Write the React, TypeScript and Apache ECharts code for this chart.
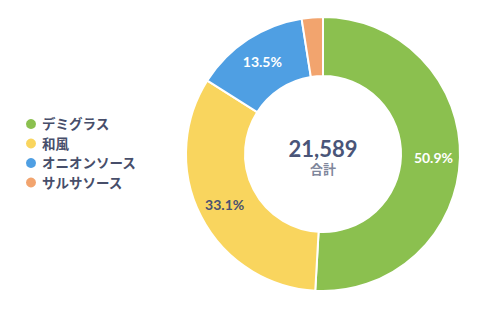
import React, { useEffect, useRef } from "react";
import * as echarts from "echarts";

const categories = ["デミグラス", "和風", "オニオンソース", "サルサソース"];
const values = [10989, 7146, 2915, 539];
const colors = ["#8bc04f", "#f9d55e", "#4f9fe3", "#f2a46e"];
const labelColors = ["#ffffff", "#4a5270", "#ffffff", "#ffffff"];
const totalLabel = "21,589";
const totalCaption = "合計";

const FONT = "Lato, 'Noto Sans CJK JP', sans-serif";

export default function App() {
  const ref = useRef<HTMLDivElement>(null);
  useEffect(() => {
    if (!ref.current) return;
    const chart = echarts.init(ref.current, null, { renderer: "svg" });
    const total = values.reduce((a, b) => a + b, 0);
    chart.setOption({
      animation: false,
      color: colors,
      textStyle: { fontFamily: FONT },
      legend: {
        orient: "vertical",
        left: 19,
        top: 112,
        icon: "circle",
        itemWidth: 12,
        itemHeight: 12,
        itemGap: 5.5,
        textStyle: { color: "#474e6a", fontSize: 13.5, fontWeight: "bold", fontFamily: FONT },
        data: categories,
      },
      graphic: [
        {
          type: "text",
          x: 323,
          y: 148,
          style: {
            text: totalLabel,
            fill: "#4a5578",
            fontSize: 22,
            fontWeight: "bold",
            fontFamily: FONT,
            textAlign: "center",
            textVerticalAlign: "middle",
          },
        },
        {
          type: "text",
          x: 323,
          y: 169,
          style: {
            text: totalCaption,
            fill: "#7f879c",
            fontSize: 13,
            fontWeight: "bold",
            fontFamily: FONT,
            textAlign: "center",
            textVerticalAlign: "middle",
          },
        },
      ],
      series: [
        {
          type: "pie",
          center: [323, 154],
          radius: [78, 137],
          startAngle: 90,
          clockwise: true,
          itemStyle: { borderColor: "#ffffff", borderWidth: 2 },
          label: {
            position: "inside",
            fontSize: 14,
            fontWeight: "bold",
            fontFamily: FONT,
            formatter: (p: any) => {
              const pct = (p.value / total) * 100;
              return pct < 5 ? "" : pct.toFixed(1) + "%";
            },
          },
          labelLine: { show: false },
          emphasis: { disabled: true },
          data: categories.map((name, i) => ({
            name,
            value: values[i],
            label: { color: labelColors[i] },
          })),
        },
      ],
    });
    return () => chart.dispose();
  }, []);
  return (
    <div
      ref={ref}
      style={{ position: "absolute", left: 0, top: 0, width: 500, height: 315 }}
    />
  );
}
